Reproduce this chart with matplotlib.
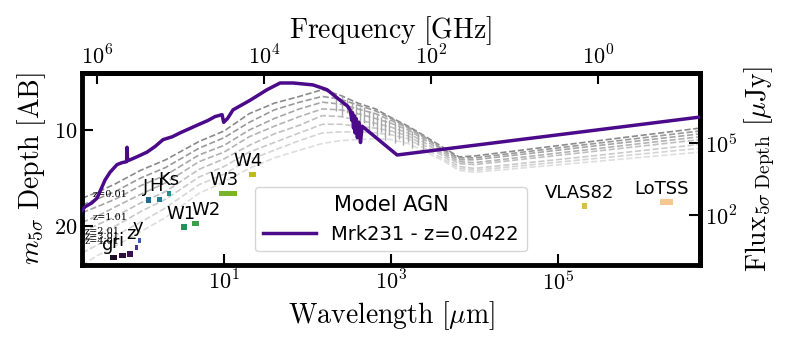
import numpy as np
import matplotlib
matplotlib.use('Agg')
import matplotlib.pyplot as plt
from matplotlib.patches import Rectangle
from matplotlib.ticker import FuncFormatter, NullLocator

plt.rcParams['mathtext.fontset'] = 'cm'
plt.rcParams['font.family'] = 'DejaVu Sans'
plt.rcParams['axes.linewidth'] = 3.5

# Mrk231 template, observed wavelength [um] vs AB magnitude
agn_lam = [0.15, 0.19, 0.216, 0.26, 0.301, 0.376, 0.431, 0.523, 0.60, 0.68, 0.689, 0.70,
           0.749, 0.9, 1.197, 1.5, 1.86, 2.4, 2.97, 4.75, 6.43, 7.8, 9.46, 9.9, 11.0, 12.8,
           20.5, 32.7, 46.9, 67, 116, 171, 245, 300, 323, 340, 345, 355, 360, 370, 380,
           395, 410, 430, 450, 1180, 5e6]
agn_mag = [19.5, 18.6, 18.0, 17.6, 17.1, 15.2, 14.4, 13.6, 13.4, 13.3, 11.8, 13.2,
           13.1, 12.8, 12.3, 11.7, 11.0, 10.7, 10.3, 9.5, 9.0, 8.6, 8.4, 9.2, 8.8, 7.9,
           6.9, 5.8, 5.1, 5.1, 5.3, 5.8, 6.9, 7.5, 7.9, 9.0, 8.2, 9.8, 8.5, 10.3, 8.8,
           10.8, 9.2, 11.3, 9.6, 12.6, 8.65]
agn_label = 'Mrk231 - z=0.0422'

# redshifted copies (grey dashed), same wavelength grid for all
grid_lam = [0.2, 0.3, 0.5, 1, 2, 5, 10, 20, 40, 80, 150, 250, 400, 650, 1000, 1600,
            2500, 4000, 6500, 1e4, 5e6]
grey_mag = [
    [17.1, 16.5, 15.6, 14.2, 13.1, 11.2, 10.1, 8.3, 7.2, 6.5, 5.8, 6.4, 7.2, 7.8, 8.7, 9.6, 10.6, 11.7, 12.8, 12.7, 9.8],
    [17.8, 17.2, 16.4, 15.0, 13.9, 11.9, 10.8, 9.2, 7.9, 7.1, 6.5, 6.8, 7.4, 8.0, 8.8, 9.7, 10.7, 11.9, 12.9, 12.9, 10.1],
    [18.6, 18.0, 17.2, 15.8, 14.7, 12.6, 11.6, 10.0, 8.8, 7.8, 7.1, 7.3, 7.8, 8.3, 9.0, 9.8, 10.8, 12.0, 13.1, 13.1, 10.4],
    [19.6, 19.0, 18.0, 16.7, 15.5, 13.3, 12.3, 10.7, 9.6, 8.6, 7.8, 7.9, 8.3, 8.8, 9.3, 10.0, 11.0, 12.2, 13.3, 13.4, 10.7],
    [20.6, 19.9, 19.0, 17.6, 16.4, 14.1, 13.0, 11.6, 10.4, 9.5, 8.5, 8.6, 9.0, 9.3, 9.7, 10.3, 11.3, 12.4, 13.5, 13.6, 11.0],
    [21.7, 20.9, 20.0, 18.5, 17.2, 14.9, 13.8, 12.3, 11.3, 10.3, 9.4, 9.4, 9.6, 9.8, 10.1, 10.6, 11.6, 12.6, 13.8, 14.0, 11.5],
    [22.8, 22.0, 21.0, 19.6, 18.1, 15.7, 14.6, 13.1, 12.1, 11.1, 10.3, 10.2, 10.2, 10.3, 10.5, 10.9, 11.9, 12.9, 14.0, 14.2, 11.9],
    [24.1, 23.1, 22.1, 20.6, 19.1, 16.6, 15.4, 14.0, 12.9, 12.1, 11.4, 11.1, 11.0, 10.9, 11.0, 11.4, 12.2, 13.1, 14.2, 14.4, 12.3],
]
grey_colors = ['#8a8a8a', '#999999', '#a6a6a6', '#b3b3b3', '#bfbfbf', '#cacaca', '#d4d4d4', '#dedede']

# noisy far-IR spikes of the grey templates
spike_lam = [220, 260, 300, 340, 380, 430, 480, 540, 600, 680, 760, 850, 950, 1100, 1250,
             1400, 1600, 1800, 2100, 2400]
spike_top = [6.3, 6.5, 6.8, 7.0, 7.3, 7.6, 7.6, 8.0, 8.1, 8.4, 8.6, 8.8, 9.0, 9.2, 9.5,
             9.6, 9.9, 10.1, 10.4, 10.6]
spike_bot = [8.0, 8.5, 8.2, 9.0, 8.8, 9.8, 9.3, 10.1, 9.6, 10.6, 10.2, 11.0, 10.5, 11.3, 10.9,
             11.6, 11.2, 11.9, 11.6, 12.2]

z_labels = ['z=0.01', 'z=1.01', 'z=2.01', 'z=3.01', 'z=4.01']
z_lab_lam = [0.27, 0.27, 0.215, 0.215, 0.215]
z_lab_mag = [16.7, 19.1, 20.6, 21.1, 21.6]

# survey 5 sigma depths
filt_names = ['g', 'r', 'i', 'z', 'y', 'J', 'H', 'Ks', 'W1', 'W2', 'W3', 'W4', 'VLAS82', 'LoTSS']
filt_lo = [0.431, 0.553, 0.688, 0.86, 0.93, 1.16, 1.58, 2.07, 3.06, 4.14, 8.7, 19.9, 1.94e5, 1.67e6]
filt_hi = [0.524, 0.670, 0.812, 0.93, 1.02, 1.33, 1.81, 2.31, 3.60, 5.02, 14.3, 24.2, 2.22e5, 2.38e6]
filt_depth = [23.3, 23.1, 22.9, 22.2, 21.5, 17.3, 17.2, 16.6, 20.1, 19.7, 16.6, 14.6, 17.9, 17.5]
filt_colors = ['#1d0c25', '#2c0e3a', '#3a1250', '#4a3396', '#3c5bb0', '#1d6a8e', '#1d7d90', '#1b938c',
               '#24905e', '#3aa04a', '#7ab526', '#bcbc1e', '#d9bf4a', '#f4c890']
lab_dx = [-2, -2.5, -4.5, -3, 0, 0, -1, 1.5, 0, 10, 3.5, -1, -2, 1]

fig = plt.figure(figsize=(7.89, 3.45), dpi=100)
ax = fig.add_axes([82 / 789, 80 / 345, 618 / 789, 192 / 345])

for mags, c in zip(grey_mag, grey_colors):
    ax.plot(grid_lam, mags, ls='--', color=c, lw=1.2, zorder=1)
ax.vlines(spike_lam, spike_top, spike_bot, color='#a8a8a8', lw=1.0, zorder=1)
for lab, lx, ly in zip(z_labels, z_lab_lam, z_lab_mag):
    ax.text(lx, ly, lab, fontsize=7, family='DejaVu Serif', va='center', clip_on=True, zorder=2)

ax.plot(agn_lam, agn_mag, color='#4b0a8a', lw=2.5, label=agn_label, zorder=3)

h = 0.55
for name, lo, hi, d, c, dx in zip(filt_names, filt_lo, filt_hi, filt_depth, filt_colors, lab_dx):
    ax.add_patch(Rectangle((lo, d - h / 2), hi - lo, h, facecolor=c, edgecolor='none', zorder=4))
    ax.annotate(name, xy=(lo, d - h / 2), xytext=(dx, 4), textcoords='offset points',
                ha='center', va='baseline', fontsize=13, zorder=5)

ax.set_xscale('log')
ax.set_xlim(0.199, 5.0e6)
ax.set_ylim(24.06, 4.06)

pow_fmt = FuncFormatter(lambda v, p: r'$10^{%d}$' % round(np.log10(v)))
ax.set_xticks([10, 1e3, 1e5])
ax.xaxis.set_major_formatter(pow_fmt)
ax.xaxis.set_minor_locator(NullLocator())
ax.set_yticks([10, 20])
ax.yaxis.set_major_formatter(FuncFormatter(lambda v, p: r'$%d$' % v))
ax.tick_params(direction='in', length=8, width=1.5, labelsize=16)

ax.set_xlabel(r'$\mathrm{Wavelength}\ [\mu\mathrm{m}]$', fontsize=20)
ax.set_ylabel(r'$m_{5\sigma}\ \mathrm{Depth}\ [\mathrm{AB}]$', fontsize=20)


def lam2ghz(lam):
    return 2.998e5 / np.clip(lam, 1e-30, None)


def mag2flux(m):
    return 10 ** ((23.9 - np.asarray(m)) / 2.5)


def flux2mag(f):
    return 23.9 - 2.5 * np.log10(np.clip(f, 1e-30, None))


secx = ax.secondary_xaxis('top', functions=(lam2ghz, lam2ghz))
secx.set_xticks([1e6, 1e4, 1e2, 1])
secx.xaxis.set_major_formatter(pow_fmt)
secx.xaxis.set_minor_locator(NullLocator())
secx.tick_params(direction='in', length=8, width=1.5, labelsize=16)
secx.set_xlabel(r'$\mathrm{Frequency}\ [\mathrm{GHz}]$', fontsize=20)

secy = ax.secondary_yaxis('right', functions=(mag2flux, flux2mag))
secy.set_yticks([1e2, 1e5])
secy.yaxis.set_major_formatter(pow_fmt)
secy.yaxis.set_minor_locator(NullLocator())
secy.tick_params(direction='in', length=8, width=1.5, labelsize=16)
secy.set_ylabel(r'$\mathrm{Flux}_{5\sigma\ \mathrm{Depth}}\ [\mu\mathrm{Jy}]$', fontsize=20)

ax.legend(loc='lower center', title='Model AGN', fontsize=14, title_fontsize=15,
          handlelength=2.7, borderaxespad=0.7)

fig.savefig('out.png', dpi=100)
